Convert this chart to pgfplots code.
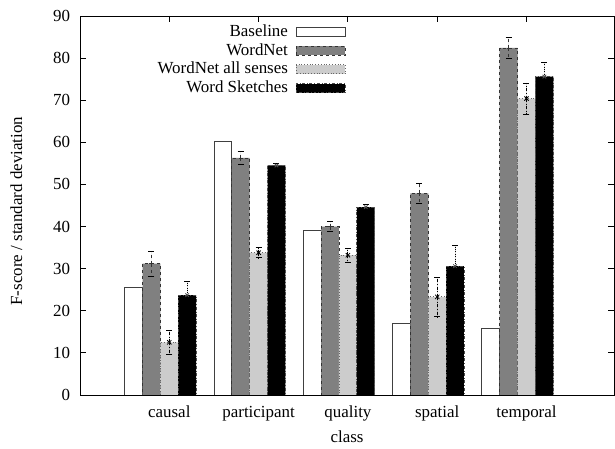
\documentclass[border=0pt]{standalone}
\usepackage{fontspec}
\setmainfont{Liberation Serif}
\usepackage{pgfplots}
\pgfplotsset{compat=1.18}
\pgfplotsset{boxleg/.style={legend image code/.code={\draw[##1] (0bp,-4.5bp) rectangle (49bp,4.5bp);}}}
\begin{document}
\fontsize{17}{20}\selectfont
\begin{tikzpicture}[x=1bp,y=1bp]
\path (0,0) rectangle (615,449);
\begin{axis}[
  at={(80bp,54bp)}, anchor=south west,
  scale only axis, width=534bp, height=379bp,
  xmin=-1, xmax=4.98, ymin=0, ymax=90,
  xtick={0,1,2,3,4},
  xticklabels={causal,participant,quality,spatial,temporal},
  ytick={0,10,...,90},
  tick align=inside, major tick length=6bp,
  tick style={black, line width=0.8bp},
  axis line style={line width=0.9bp},
  /pgf/number format/assume math mode=true,
  ticklabel style={font=\fontsize{17}{20}\selectfont},
  yticklabel style={xshift=-4bp},
  xticklabel style={yshift=-5bp},
  label style={font=\fontsize{17}{20}\selectfont},
  xlabel={class},
  xlabel style={at={(axis description cs:0.5,0)}, anchor=north, yshift=-30bp},
  ylabel={F-score / standard deviation},
  ylabel style={at={(axis description cs:-0.097,0.485)}, anchor=south, rotate=0},
  legend plot pos=right,
  legend cell align=right,
  legend style={at={(0.498,0.983)}, anchor=north east, draw=none, fill=none,
    font=\fontsize{17}{20}\selectfont, row sep=0.5bp, column sep=6bp, inner sep=0pt},
  error bars/error mark options={rotate=90, mark size=3bp, line width=0.6bp, solid},
]
% Baseline
\addplot[ybar, bar width=0.2, bar shift=0, fill=white, draw=black!75, line width=0.8bp, boxleg]
  coordinates {(-0.4,25.5) (0.6,60.3) (1.6,39.2) (2.6,17.0) (3.6,15.8)};
\addlegendentry{Baseline}
% WordNet
\addplot[ybar, bar width=0.2, bar shift=0, fill=black!50, draw=black!80, dashed, line width=0.8bp,
  mark=+, mark size=2bp, mark options={solid}, boxleg,
  error bars/.cd, y dir=both, y explicit, error bar style={dashed, line width=0.8bp}]
  coordinates {(-0.2,31.2) +- (0,3.0) (0.8,56.3) +- (0,1.6) (1.8,40.0) +- (0,1.2) (2.8,47.9) +- (0,2.4) (3.8,82.4) +- (0,2.5)};
\addlegendentry{WordNet}
% WordNet all senses
\addplot[ybar, bar width=0.2, bar shift=0, fill=black!20, draw=black!60, dotted, line width=0.8bp,
  mark=x, mark size=3bp, mark options={solid, black}, boxleg,
  error bars/.cd, y dir=both, y explicit, error bar style={dash dot, line width=0.8bp, black}]
  coordinates {(0,12.5) +- (0,2.8) (1,33.8) +- (0,1.2) (2,33.2) +- (0,1.7) (3,23.3) +- (0,4.7) (4,70.4) +- (0,3.7)};
\addlegendentry{WordNet all senses}
% Word Sketches
\addplot[ybar, bar width=0.2, bar shift=0, fill=black, draw=black!70, dash dot, line width=0.8bp,
  mark=x, mark size=2.5bp, mark options={solid, black!70}, boxleg,
  error bars/.cd, y dir=both, y explicit, error bar style={dotted, line width=0.8bp, black}]
  coordinates {(0.2,23.7) +- (0,3.2) (1.2,54.5) +- (0,0.6) (2.2,44.6) +- (0,0.8) (3.2,30.6) +- (0,5.0) (4.2,75.6) +- (0,3.4)};
\addlegendentry{Word Sketches}
\end{axis}
\end{tikzpicture}
\end{document}
